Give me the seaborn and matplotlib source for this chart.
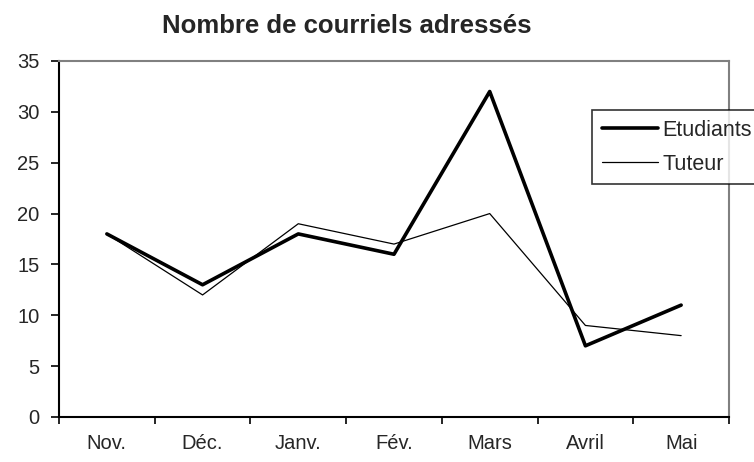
import matplotlib
matplotlib.use("Agg")
import matplotlib.pyplot as plt
from matplotlib.ticker import MultipleLocator, FixedLocator
import seaborn as sns
import pandas as pd

sns.set_style("white")
plt.rcParams['font.family'] = ['Liberation Sans', 'DejaVu Sans']

# donnees
mois = ["Nov.", "Déc.", "Janv.", "Fév.", "Mars", "Avril", "Mai"]
etudiants = [18, 13, 18, 16, 32, 7, 11]
tuteur = [18, 12, 19, 17, 20, 9, 8]

df = pd.DataFrame({"pos": range(len(mois)), "Etudiants": etudiants, "Tuteur": tuteur})

fig = plt.figure(figsize=(7.54, 4.62), dpi=100)
ax = fig.add_axes([59/754, 45/462, 670/754, 356/462])

sns.lineplot(data=df, x="pos", y="Etudiants", ax=ax, color="black", linewidth=2.6, label="Etudiants")
sns.lineplot(data=df, x="pos", y="Tuteur", ax=ax, color="black", linewidth=0.9, label="Tuteur")

ax.set_xlim(-0.5, len(mois) - 0.5)
ax.set_ylim(0, 35)
ax.yaxis.set_major_locator(MultipleLocator(5))
ax.set_xticks(range(len(mois)))
ax.set_xticklabels(mois)
ax.xaxis.set_minor_locator(FixedLocator([i - 0.5 for i in range(len(mois) + 1)]))
ax.tick_params(axis="x", which="major", length=0, pad=12, labelsize=14.5)
ax.tick_params(axis="x", which="minor", length=5, width=1.2, color="black", direction="out", bottom=True)
ax.tick_params(axis="y", length=6, width=1.2, color="black", direction="out", left=True, labelsize=14.5, pad=8)
ax.set_xlabel("")
ax.set_ylabel("")

for s in ["left", "bottom"]:
    ax.spines[s].set_color("black")
    ax.spines[s].set_linewidth(1.5)
for s in ["top", "right"]:
    ax.spines[s].set_color("#808080")
    ax.spines[s].set_linewidth(1.5)

ax.get_legend().remove()
h, l = ax.get_legend_handles_labels()
leg = fig.legend(h, l, loc="upper left", bbox_to_anchor=(592/754, 1 - 110/462),
                 frameon=True, fancybox=False, fontsize=15.5, handlelength=2.6,
                 handletextpad=0.22, borderpad=0.45, labelspacing=0.6, borderaxespad=0)
leg.get_frame().set_edgecolor("black")
leg.get_frame().set_linewidth(1.2)

fig.text(347/754, 1 - 26/462, "Nombre de courriels adressés", ha="center", va="center",
         fontsize=18.5, fontweight="bold")

fig.savefig("out.png", dpi=100)
